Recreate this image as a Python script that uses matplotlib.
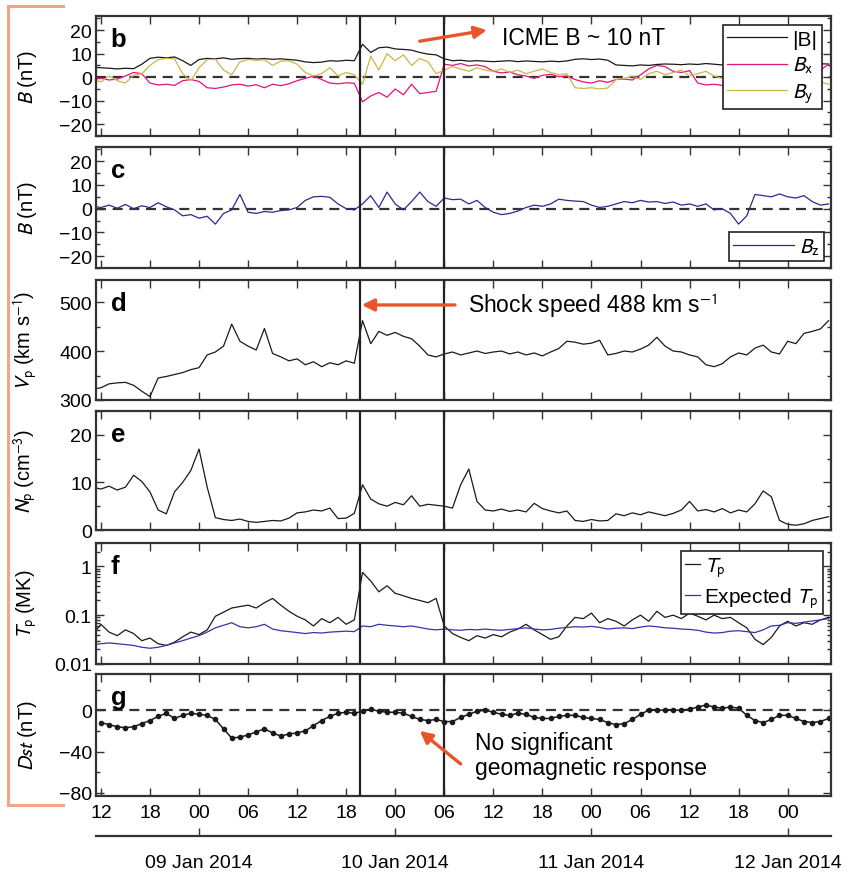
import numpy as np
import matplotlib
matplotlib.use("Agg")
import matplotlib.pyplot as plt
from matplotlib.lines import Line2D
from matplotlib.ticker import MultipleLocator, NullFormatter, LogLocator

plt.rcParams['font.family'] = ['Liberation Sans', 'DejaVu Sans']
plt.rcParams['mathtext.fontset'] = 'stixsans'

# --- data, hours since 2014-01-08 00:00 UT ---
hours = np.arange(11, 102)
dst_hours = np.arange(12, 102)

b_mag = [4.2, 4.0, 3.8, 3.5, 3.8, 3.6, 5.5, 8.0, 8.5, 8.2, 8.6, 7.0, 5.0, 7.5, 8.0, 7.8,
         8.2, 7.6, 7.9, 8.0, 7.7, 7.9, 7.6, 7.8, 7.5, 7.2, 6.5, 6.2, 6.4, 7.0, 6.8, 7.2,
         7.0, 14.0, 10.5, 12.5, 12.8, 12.0, 11.8, 11.5, 10.5, 9.8, 9.5, 7.8, 7.0, 7.2, 6.8,
         7.0, 6.8, 6.6, 6.8, 7.0, 6.6, 6.9, 6.7, 6.5, 6.8, 6.6, 6.9, 7.6, 7.8, 7.5, 7.7,
         7.2, 5.2, 5.0, 4.8, 5.2, 5.0, 5.4, 5.6, 5.5, 5.3, 5.6, 5.4, 5.8, 5.5, 5.2, 5.5,
         5.7, 5.4, 5.6, 5.8, 5.5, 5.3, 5.6, 5.8, 5.5, 5.4, 5.7, 5.6]
b_x = [-1.0, -0.5, -1.2, -0.8, 0.5, 2.0, 1.5, -2.5, -3.3, -3.0, -3.5, -1.5, -1.0, -1.8,
       -4.5, -4.8, -4.2, -3.3, -3.0, -3.8, -3.2, -4.5, -3.0, -3.6, -2.8, -1.5, -0.5, 0.5,
       -1.0, -2.5, -2.8, -2.4, -2.6, -10.5, -8.0, -6.5, -8.5, -5.0, -7.5, -3.0, -7.0, -6.5,
       -6.0, 5.5, 5.0, 5.8, 4.8, 5.2, 4.5, 2.5, 1.8, 2.2, 1.0, 0.5, -0.5, 0.8, 1.2, 0.2,
       0.5, -1.0, -2.0, -2.5, -1.5, -2.2, -1.0, -0.8, -1.2, 1.0, 3.5, 5.0, 4.5, 2.5, 2.0,
       2.8, -2.5, -3.3, -3.0, -3.5, -3.2, -3.0, -3.5, -3.2, -3.0, -3.4, -3.0, -2.8, -3.2,
       -3.0, -2.0, 3.0, 5.5]
b_y = [-1.0, -2.0, 0.5, -1.5, -2.5, 0.8, 1.5, 5.0, 7.5, 8.0, 7.8, 1.5, -1.5, 4.0, 7.5,
       7.6, 3.0, 1.0, 6.5, 7.5, 7.2, 7.4, 5.0, 6.8, 7.0, 5.5, 2.0, 0.5, 1.5, 4.0, 0.5, 2.0,
       1.0, -3.0, 9.0, 3.0, 10.0, 7.0, 9.5, 5.0, 8.0, 6.5, 1.5, 3.0, 4.5, 3.5, 2.5, 4.0,
       3.0, 2.5, 3.5, 2.0, 3.0, 1.5, 2.5, 3.5, 2.0, 1.0, 1.5, -4.5, -4.8, -4.5, -5.0, -4.6,
       -1.0, -0.5, 0.5, -1.0, 1.5, 2.5, 1.0, 2.0, 3.0, 0.5, 1.5, 2.5, 0.5, -0.5, 1.0, 2.0,
       1.5, -0.5, -2.0, -1.5, -2.5, -2.0, -1.5, -2.2, -1.0, -2.0, -3.0]
b_z = [1.0, 0.5, 1.5, 0.2, 1.8, 0.0, 1.2, 0.5, 2.5, 0.8, -0.5, -3.0, -2.5, -4.0, -3.2,
       -6.5, -2.0, -0.5, 6.0, -1.5, -2.0, -1.2, -1.5, -0.8, -0.5, 0.5, 3.5, 5.0, 5.2, 4.8,
       2.0, 0.0, -0.5, 2.0, 5.5, 0.5, 7.0, 2.0, -0.5, 3.0, 7.0, 3.0, 1.0, 4.5, 3.8, 4.0,
       2.0, 3.5, 0.5, -1.5, -2.5, -2.0, -1.0, 0.5, 1.5, 1.0, 2.0, 4.0, 3.5, 3.2, 3.0, 1.5,
       0.5, 1.0, 2.0, 3.0, 2.5, 3.5, 2.8, 3.0, 2.2, 2.8, 1.5, 2.0, 1.0, 2.0, -0.5, 0.0,
       -2.0, -6.5, -3.0, 6.0, 5.5, 5.0, 6.2, 5.0, 4.5, 5.5, 3.0, 1.5, 2.0]
v_p = [322, 325, 333, 335, 336, 330, 318, 307, 345, 348, 352, 356, 362, 366, 392, 398,
       410, 455, 420, 410, 402, 446, 395, 388, 380, 384, 372, 378, 368, 376, 372, 380,
       375, 462, 415, 440, 432, 438, 430, 425, 410, 392, 388, 394, 398, 392, 396, 400,
       395, 398, 400, 394, 398, 392, 396, 390, 398, 405, 420, 418, 414, 416, 422, 392,
       395, 400, 398, 404, 412, 428, 410, 400, 398, 392, 388, 372, 368, 374, 388, 396,
       392, 406, 412, 398, 394, 420, 415, 436, 440, 445, 462]
n_p = [9.0, 8.6, 9.2, 8.4, 9.0, 11.5, 10.2, 8.0, 4.2, 3.4, 8.0, 10.0, 12.5, 17.0, 9.0,
       2.6, 2.2, 2.0, 2.3, 1.8, 1.6, 1.8, 2.0, 1.9, 2.5, 3.6, 3.8, 4.2, 4.0, 4.6, 2.4, 2.5,
       3.5, 9.5, 6.5, 5.5, 5.0, 5.8, 5.3, 7.2, 5.0, 5.4, 5.2, 5.0, 4.6, 9.5, 12.8, 6.0, 4.2,
       4.0, 4.4, 3.9, 4.2, 3.8, 5.6, 4.5, 4.0, 3.6, 4.0, 2.0, 1.8, 2.2, 1.9, 2.0, 3.4, 3.0,
       3.6, 3.2, 3.8, 3.4, 3.0, 3.5, 4.2, 6.0, 4.0, 4.3, 3.8, 4.5, 3.6, 4.2, 3.8, 5.5, 8.2,
       7.0, 2.0, 1.2, 1.0, 1.3, 2.0, 2.4, 2.8]
t_p = [0.040, 0.065, 0.045, 0.038, 0.050, 0.042, 0.030, 0.034, 0.026, 0.024, 0.028,
       0.036, 0.045, 0.040, 0.050, 0.095, 0.115, 0.14, 0.15, 0.16, 0.14, 0.18, 0.22, 0.16,
       0.12, 0.095, 0.08, 0.06, 0.085, 0.07, 0.09, 0.065, 0.08, 0.75, 0.50, 0.30, 0.40,
       0.28, 0.25, 0.22, 0.20, 0.18, 0.22, 0.06, 0.042, 0.035, 0.030, 0.038, 0.034, 0.040,
       0.036, 0.045, 0.052, 0.065, 0.050, 0.040, 0.032, 0.036, 0.06, 0.09, 0.085, 0.11,
       0.07, 0.085, 0.075, 0.06, 0.08, 0.10, 0.075, 0.12, 0.09, 0.10, 0.085, 0.11, 0.095,
       0.08, 0.10, 0.085, 0.09, 0.07, 0.055, 0.032, 0.025, 0.035, 0.06, 0.075, 0.06, 0.07,
       0.065, 0.08, 0.09]
t_exp = [0.025, 0.026, 0.027, 0.026, 0.025, 0.024, 0.022, 0.021, 0.022, 0.024, 0.027,
         0.030, 0.034, 0.038, 0.045, 0.055, 0.062, 0.070, 0.058, 0.055, 0.058, 0.065,
         0.052, 0.048, 0.046, 0.044, 0.042, 0.044, 0.043, 0.045, 0.046, 0.047, 0.046,
         0.060, 0.058, 0.065, 0.062, 0.060, 0.058, 0.060, 0.056, 0.052, 0.050, 0.052,
         0.050, 0.049, 0.051, 0.050, 0.052, 0.050, 0.049, 0.051, 0.053, 0.055, 0.052,
         0.050, 0.051, 0.054, 0.056, 0.058, 0.057, 0.059, 0.056, 0.052, 0.054, 0.055,
         0.053, 0.057, 0.060, 0.058, 0.055, 0.054, 0.052, 0.051, 0.049, 0.045, 0.043,
         0.044, 0.047, 0.048, 0.046, 0.044, 0.050, 0.060, 0.062, 0.070, 0.068, 0.072,
         0.076, 0.080, 0.085]
dst = [-12, -14, -16, -17, -16, -13, -10, -6, -3, -8, -5, -3, -4, -5, -9, -18, -27, -26,
       -24, -21, -18, -22, -25, -23, -22, -20, -15, -10, -6, -3, -2, -3, -1, 1, -1, -2, -2,
       -3, -6, -9, -10, -9, -11, -11, -7, -4, -1, 0, -2, -4, -5, -3, -4, -7, -8, -8, -6,
       -5, -5, -7, -8, -9, -12, -14, -13, -9, -4, 0, 0, 0, 0, 0, 1, 3, 5, 3, 2, 3, 2, -5,
       -10, -12, -9, -5, -5, -8, -11, -12, -11, -8]

event_lines = [43.7, 54.0]  # shock arrival, end of sheath
hour_ticks = np.arange(12, 100, 6)
date_ticks = [24, 48, 72, 96]
date_labels = ['09 Jan 2014', '10 Jan 2014', '11 Jan 2014', '12 Jan 2014']
x_range = (11.4, 101.3)

c_black = '#1a1a1a'
c_bx = '#e3127e'
c_by = '#cbb64a'
c_bz = '#2b2b8e'
c_exp = '#3434a6'
c_arrow = '#e9542a'
c_axis = '#333333'

W, H = 848, 878
fig = plt.figure(figsize=(W / 100, H / 100), dpi=100)
left, right = 96, 831
panels_px = [(17, 137), (148, 269), (281, 401), (412, 531), (544, 665), (675, 797)]
axes = []
for top, bot in panels_px:
    ax = fig.add_axes([left / W, 1 - bot / H, (right - left) / W, (bot - top) / H])
    axes.append(ax)
ax_b, ax_c, ax_d, ax_e, ax_f, ax_g = axes

lw = 0.9
ax_b.plot(hours, b_mag, color=c_black, lw=lw, label='|B|')
ax_b.plot(hours, b_x, color=c_bx, lw=lw, label='$B_\\mathrm{x}$')
ax_b.plot(hours, b_y, color=c_by, lw=lw, label='$B_\\mathrm{y}$')
ax_c.plot(hours, b_z, color=c_bz, lw=lw, label='$B_\\mathrm{z}$')
ax_d.plot(hours, v_p, color=c_black, lw=lw)
ax_e.plot(hours, n_p, color=c_black, lw=lw)
ax_f.plot(hours, t_p, color=c_black, lw=lw, label='$T_\\mathrm{p}$')
ax_f.plot(hours, t_exp, color=c_exp, lw=lw, label='Expected $T_\\mathrm{p}$')
ax_f.set_yscale('log')
ax_g.plot(dst_hours, dst, color=c_black, lw=1.1, marker='o', ms=3.0)

for ax in (ax_b, ax_c, ax_g):
    ax.axhline(0, color=c_axis, lw=1.6, ls=(0, (4.5, 3)), zorder=0.5)

ax_b.set_ylim(-25, 26)
ax_c.set_ylim(-25, 26)
ax_d.set_ylim(300, 545)
ax_e.set_ylim(0, 25)
ax_f.set_ylim(0.01, 3)
ax_g.set_ylim(-83, 35)

for ax in (ax_b, ax_c):
    ax.set_yticks([-20, -10, 0, 10, 20])
    ax.set_yticklabels(['\u221220', '\u221210', '0', '10', '20'])
    ax.yaxis.set_minor_locator(MultipleLocator(5))
ax_d.set_yticks([300, 400, 500])
ax_d.yaxis.set_minor_locator(MultipleLocator(50))
ax_e.set_yticks([0, 10, 20])
ax_e.yaxis.set_minor_locator(MultipleLocator(5))
ax_f.set_yticks([0.01, 0.1, 1])
ax_f.set_yticklabels(['0.01', '0.1', '1'])
ax_f.yaxis.set_minor_locator(LogLocator(base=10, subs=np.arange(2, 10)))
ax_f.yaxis.set_minor_formatter(NullFormatter())
ax_g.set_yticks([-80, -40, 0])
ax_g.set_yticklabels(['\u221280', '\u221240', '0'])
ax_g.yaxis.set_minor_locator(MultipleLocator(20))

ylabels = ['$B$ (nT)', '$B$ (nT)', '$V_\\mathrm{p}$ (km s$^{-1}$)',
           '$N_\\mathrm{p}$ (cm$^{-3}$)', '$T_\\mathrm{p}$ (MK)', '$Dst$ (nT)']
letters = ['b', 'c', 'd', 'e', 'f', 'g']
for ax, lab, let in zip(axes, ylabels, letters):
    ax.set_xlim(*x_range)
    ax.set_xticks(hour_ticks)
    ax.set_xticklabels(['%02d' % (h % 24) for h in hour_ticks])
    ax.tick_params(which='both', direction='in', top=True, right=True, labelsize=14,
                   width=1.0, color=c_axis)
    ax.tick_params(which='major', length=6)
    ax.tick_params(which='minor', length=3)
    ax.tick_params(axis='x', pad=6)
    ax.tick_params(axis='y', pad=3)
    if ax is not ax_g:
        ax.tick_params(axis='x', labelbottom=False)
    ax.set_ylabel(lab, fontsize=14.5)
    ax.yaxis.set_label_coords(-0.077, 0.5)
    for s in ax.spines.values():
        s.set_linewidth(1.6)
        s.set_color(c_axis)
    for xv in event_lines:
        ax.axvline(xv, color='#222222', lw=1.6, zorder=3)
    ax.text(0.02, 0.91, let, transform=ax.transAxes, fontsize=18.5, fontweight='bold',
            va='top', ha='left')

leg_kw = dict(fontsize=15, fancybox=False, framealpha=1, edgecolor='#222222')
lb = ax_b.legend(loc='upper right', handlelength=2.9, handletextpad=0.25,
                 labelspacing=0.3, borderaxespad=0.45, borderpad=0.2, **leg_kw)
lc = ax_c.legend(loc='lower right', handlelength=2.9, handletextpad=0.25,
                 borderaxespad=0.35, borderpad=0.2, **leg_kw)
lf = ax_f.legend(loc='upper right', handlelength=0.7, handletextpad=0.2,
                 labelspacing=0.3, borderaxespad=0.4, borderpad=0.2, **leg_kw)
for leg in (lb, lc, lf):
    leg.get_frame().set_linewidth(1.2)

arrow_kw = dict(arrowstyle='-|>', color=c_arrow, lw=2.4, mutation_scale=18,
                shrinkA=0, shrinkB=0)
ax_b.annotate('', xy=(59.2, 20), xytext=(51.0, 15.3), arrowprops=arrow_kw)
ax_b.text(61.0, 16.8, 'ICME B ~ 10 nT', fontsize=16.5, va='center', ha='left')
ax_d.annotate('', xy=(43.9, 494), xytext=(55.3, 494), arrowprops=arrow_kw)
ax_d.text(56.9, 494, 'Shock speed 488 km s$^{-1}$', fontsize=16.5, va='center', ha='left')
ax_g.annotate('', xy=(51.0, -20), xytext=(56.0, -52), arrowprops=arrow_kw)
ax_g.text(57.7, -43, 'No significant\ngeomagnetic response', fontsize=16.5,
          va='center', ha='left', linespacing=1.1)

# date axis below the panels
ax_date = fig.add_axes([left / W, 1 - 837 / H, (right - left) / W, 0.0001])
ax_date.set_xlim(*x_range)
ax_date.set_yticks([])
for s in ('top', 'left', 'right'):
    ax_date.spines[s].set_visible(False)
ax_date.spines['bottom'].set_linewidth(1.6)
ax_date.spines['bottom'].set_color(c_axis)
ax_date.set_xticks(date_ticks)
ax_date.set_xticklabels(date_labels)
ax_date.tick_params(axis='x', direction='in', length=6, width=1.0, pad=13,
                    labelsize=14, color=c_axis)

# bracket at the left edge
bc = '#f2a487'
fig.add_artist(Line2D([8 / W, 8 / W], [1 - 7 / H, 1 - 806 / H], color=bc, lw=2.2))
fig.add_artist(Line2D([8 / W, 63 / W], [1 - 7 / H, 1 - 7 / H], color=bc, lw=2.2))
fig.add_artist(Line2D([8 / W, 63 / W], [1 - 806 / H, 1 - 806 / H], color=bc, lw=2.2))

fig.savefig('out.png', dpi=100)
